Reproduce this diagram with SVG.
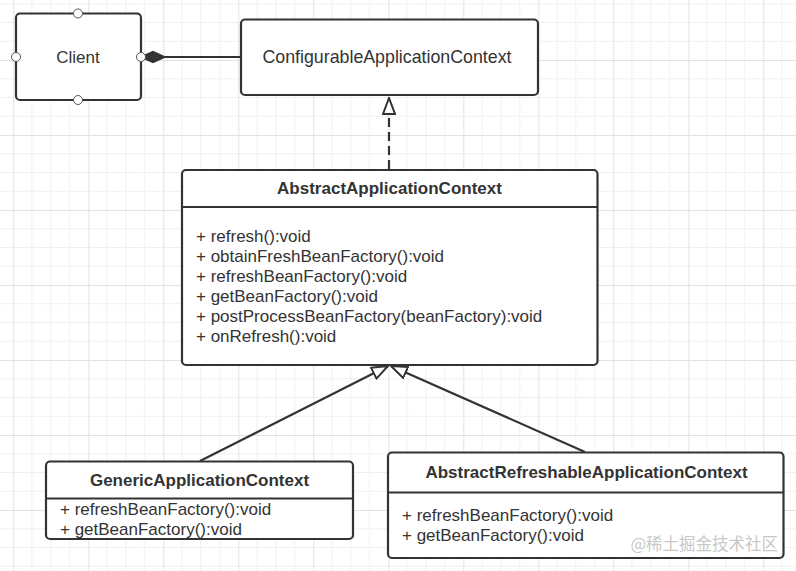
<svg xmlns="http://www.w3.org/2000/svg" width="796" height="571" viewBox="0 0 796 571">
<style>
.box{fill:#fff;stroke:#333;stroke-width:2.2}
.div{stroke:#333;stroke-width:2}
.t{font-family:"Liberation Sans",Arial,sans-serif;font-size:17px;fill:#333}
.b{font-weight:bold;text-anchor:middle}
.c{text-anchor:middle}
.ln{fill:none;stroke:#333;stroke-width:2.2}
.port{fill:#fff;stroke:#555;stroke-width:1}
.wm{font-family:"Noto Sans CJK SC","Noto Sans",sans-serif;font-size:16.5px;fill:#c8c8c8}
</style>
<defs>
<pattern id="grid" patternUnits="userSpaceOnUse" x="13.3" y="60" width="75" height="75">
<path d="M18.75 0V75M37.5 0V75M56.25 0V75M0 18.75H75M0 37.5H75M0 56.25H75" stroke="#f0f0f0" stroke-width="1" fill="none"/>
<path d="M0.5 0V75M0 0.5H75" stroke="#e2e2e2" stroke-width="1" fill="none"/>
</pattern>
<marker id="tri" markerUnits="userSpaceOnUse" viewBox="0 0 18 14" refX="17" refY="7" markerWidth="18" markerHeight="14" orient="auto">
<path d="M1 1L17 7L1 13Z" fill="#fff" stroke="#333" stroke-width="2"/>
</marker>
</defs>
<rect width="796" height="571" fill="#fff"/>
<rect width="796" height="571" fill="url(#grid)"/>
<g id="connectors">
<path d="M141 57L153 51.5L165 57L153 62.5Z" fill="#333" stroke="#333" stroke-width="1.5"/>
<line class="ln" x1="165" y1="57" x2="241" y2="57"/>
<line class="ln" x1="389" y1="169" x2="389" y2="98" stroke-dasharray="9,5" marker-end="url(#tri)"/>
<line class="ln" x1="200" y1="461" x2="388" y2="366" marker-end="url(#tri)"/>
<line class="ln" x1="585" y1="452" x2="391" y2="366" marker-end="url(#tri)"/>
</g>
<g id="client">
<rect class="box" x="16" y="13.5" width="125" height="86.5" rx="4"/>
<text class="t c" x="78" y="63">Client</text>
<circle class="port" cx="78" cy="13.5" r="4.5"/>
<circle class="port" cx="78" cy="100" r="4.5"/>
<circle class="port" cx="16" cy="57" r="4.5"/>
<circle class="port" cx="141" cy="57" r="4.5"/>
</g>
<g id="configurable">
<rect class="box" x="241" y="19.5" width="297" height="75.5" rx="4"/>
<text class="t c" x="387" y="63" style="font-size:17.8px">ConfigurableApplicationContext</text>
</g>
<g id="abstract">
<rect class="box" x="182" y="170" width="415.5" height="195" rx="4"/>
<line class="div" x1="182" y1="207" x2="597.5" y2="207"/>
<text class="t b" x="389.5" y="194">AbstractApplicationContext</text>
<text class="t" x="196" y="242">+ refresh():void</text>
<text class="t" x="196" y="262">+ obtainFreshBeanFactory():void</text>
<text class="t" x="196" y="282">+ refreshBeanFactory():void</text>
<text class="t" x="196" y="302">+ getBeanFactory():void</text>
<text class="t" x="196" y="322">+ postProcessBeanFactory(beanFactory):void</text>
<text class="t" x="196" y="342">+ onRefresh():void</text>
</g>
<g id="generic">
<rect class="box" x="46" y="461.5" width="307" height="77.5" rx="4"/>
<line class="div" x1="46" y1="498.5" x2="353" y2="498.5"/>
<text class="t b" x="199.5" y="486">GenericApplicationContext</text>
<text class="t" x="60" y="514.5">+ refreshBeanFactory():void</text>
<text class="t" x="60" y="534.5">+ getBeanFactory():void</text>
</g>
<g id="refreshable">
<rect class="box" x="388" y="452.5" width="395.5" height="105.5" rx="4"/>
<line class="div" x1="388" y1="492.5" x2="783.5" y2="492.5"/>
<text class="t b" x="586.5" y="478">AbstractRefreshableApplicationContext</text>
<text class="t" x="402" y="520.5">+ refreshBeanFactory():void</text>
<text class="t" x="402" y="540.5">+ getBeanFactory():void</text>
</g>
<text class="wm" x="778" y="550" text-anchor="end">@稀土掘金技术社区</text>
</svg>
